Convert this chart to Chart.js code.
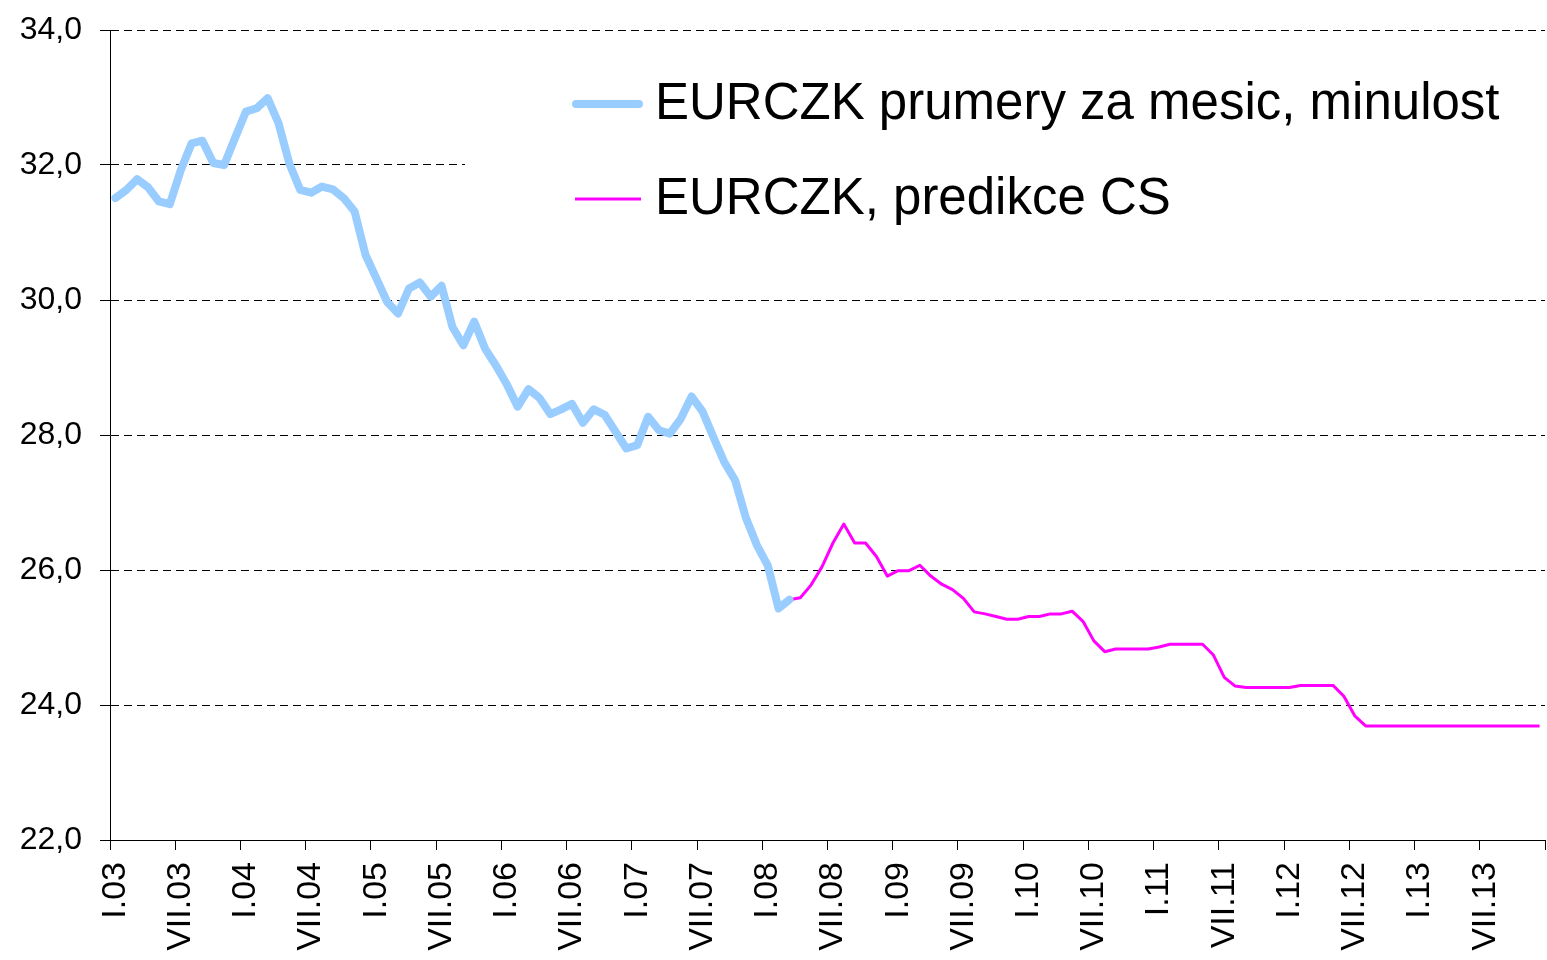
<!DOCTYPE html>
<html>
<head>
<meta charset="utf-8">
<script src="https://cdn.jsdelivr.net/npm/chart.js@4.4.1/dist/chart.umd.min.js"></script>
<style>
  html, body { margin: 0; padding: 0; background: #fff; }
  canvas { display: block; }
</style>
</head>
<body>
<canvas id="eurczk-linechart" width="1547" height="960" style="width:1547px;height:960px"></canvas>
<script>
// months and years of the category axis (I.03 ... XII.13)
const MONTHS = ['I', 'II', 'III', 'IV', 'V', 'VI', 'VII', 'VIII', 'IX', 'X', 'XI', 'XII'];
const YEARS = ['03', '04', '05', '06', '07', '08', '09', '10', '11', '12', '13'];

// monthly averages, I.03 - III.08
const PAST = [
  31.51, 31.63, 31.79, 31.67, 31.46, 31.42, 31.92, 32.32, 32.36, 32.03, 32.00, 32.40,
  32.79, 32.84, 32.99, 32.62, 32.02, 31.63, 31.59, 31.68, 31.64, 31.51, 31.31, 30.67,
  30.32, 29.97, 29.80, 30.17, 30.26, 30.05, 30.21, 29.60, 29.33, 29.68, 29.28, 29.03,
  28.75, 28.42, 28.68, 28.55, 28.31, 28.38, 28.46, 28.18, 28.38, 28.30, 28.05, 27.80,
  27.85, 28.27, 28.07, 28.02, 28.24, 28.57, 28.35, 27.97, 27.60, 27.33, 26.77, 26.37,
  26.07, 25.43, 25.56,
];

// forecast, starts at the last past month (III.08) and runs to XII.13
const FORECAST_FROM = 'III.08';
const FORECAST = [
  25.56, 25.59, 25.78, 26.05, 26.40, 26.68, 26.40, 26.40, 26.20, 25.91,
  25.99, 25.99, 26.07, 25.91, 25.79, 25.71, 25.58, 25.38, 25.35, 25.31, 25.27, 25.27,
  25.31, 25.31, 25.35, 25.35, 25.39, 25.24, 24.95, 24.79, 24.83, 24.83, 24.83, 24.83,
  24.86, 24.90, 24.90, 24.90, 24.90, 24.74, 24.41, 24.28, 24.26, 24.26, 24.26, 24.26,
  24.26, 24.29, 24.29, 24.29, 24.29, 24.13, 23.84, 23.69, 23.69, 23.69, 23.69, 23.69,
  23.69, 23.69, 23.69, 23.69, 23.69, 23.69, 23.69, 23.69, 23.69, 23.69, 23.69, 23.69,
];

const Y_MIN = 22;
const Y_MAX = 34;
const Y_STEP = 2;

const LABELS = YEARS.flatMap((y) => MONTHS.map((m) => `${m}.${y}`));
const forecastStart = LABELS.indexOf(FORECAST_FROM);
const pastData = LABELS.map((_, i) => (i < PAST.length ? PAST[i] : null));
const forecastData = LABELS.map((_, i) => (i >= forecastStart ? FORECAST[i - forecastStart] : null));

const FONT = 'Liberation Sans, Arial, sans-serif';

// white box behind the legend (hides the grid under it) + legend itself
const legendBox = {
  id: 'legendBox',
  beforeDatasetsDraw(chart) {
    const { ctx, chartArea } = chart;
    ctx.save();
    ctx.fillStyle = '#fff';
    ctx.fillRect(465, 45, chartArea.right - 465, 240);
    ctx.restore();
  },
  afterDraw(chart) {
    const { ctx } = chart;
    const rows = [104, 199];
    ctx.save();
    chart.data.datasets.forEach((ds, i) => {
      const y = rows[i];
      ctx.strokeStyle = ds.borderColor;
      ctx.lineWidth = ds.borderWidth;
      ctx.lineCap = i === 0 ? 'round' : 'butt';
      ctx.beginPath();
      ctx.moveTo(i === 0 ? 576 : 575, y);
      ctx.lineTo(i === 0 ? 639 : 641, y);
      ctx.stroke();
      ctx.fillStyle = '#000';
      ctx.font = `51px ${FONT}`;
      ctx.textBaseline = 'middle';
      ctx.textAlign = 'left';
      ctx.fillText(ds.label, 655, y + 1);
    });
    ctx.restore();
  },
};

const ctx = document.getElementById('eurczk-linechart').getContext('2d');
const tickOn = (c) => (c.index === undefined || c.index % 6 === 0 ? '#000' : 'rgba(0,0,0,0)');

const chart = new Chart(ctx, {
  type: 'line',
  data: {
    labels: LABELS,
    datasets: [
      {
        label: 'EURCZK prumery za mesic, minulost',
        data: pastData,
        borderColor: '#99CCFF',
        borderWidth: 8,
        borderJoinStyle: 'round',
        borderCapStyle: 'round',
        pointRadius: 0,
        tension: 0,
      },
      {
        label: 'EURCZK, predikce CS',
        data: forecastData,
        borderColor: '#FF00FF',
        borderWidth: 3,
        borderJoinStyle: 'round',
        pointRadius: 0,
        tension: 0,
      },
    ],
  },
  options: {
    responsive: false,
    animation: false,
    layout: { padding: { top: 30, right: 2, left: 0, bottom: 0 } },
    plugins: {
      legend: { display: false },
      tooltip: { enabled: false },
    },
    scales: {
      x: {
        offset: true,
        grid: {
          offset: true,
          drawOnChartArea: false,
          tickLength: 10,
          color: tickOn,
          tickColor: tickOn,
        },
        border: { color: '#000', width: 1 },
        ticks: {
          autoSkip: false,
          minRotation: 90,
          maxRotation: 90,
          padding: 12,
          color: '#000',
          font: { family: FONT, size: 34 },
          callback(value, index) {
            return index % 6 === 0 ? this.getLabelForValue(value) : '';
          },
        },
        afterFit(scale) {
          scale.height = 120;
          scale.paddingLeft = 0;
          scale.paddingRight = 0;
        },
      },
      y: {
        min: Y_MIN,
        max: Y_MAX,
        grid: { color: '#000', lineWidth: 1, tickLength: 10, tickColor: '#000' },
        border: { color: '#000', width: 1, dash: [8, 5] },
        ticks: {
          stepSize: Y_STEP,
          padding: 18,
          color: '#000',
          font: { family: FONT, size: 32 },
          callback: (v) => v.toFixed(1).replace('.', ','),
        },
        afterFit(scale) {
          scale.width = 110;
          scale.paddingTop = 0;
          scale.paddingBottom = 0;
        },
      },
    },
  },
  plugins: [legendBox],
});
</script>
</body>
</html>
